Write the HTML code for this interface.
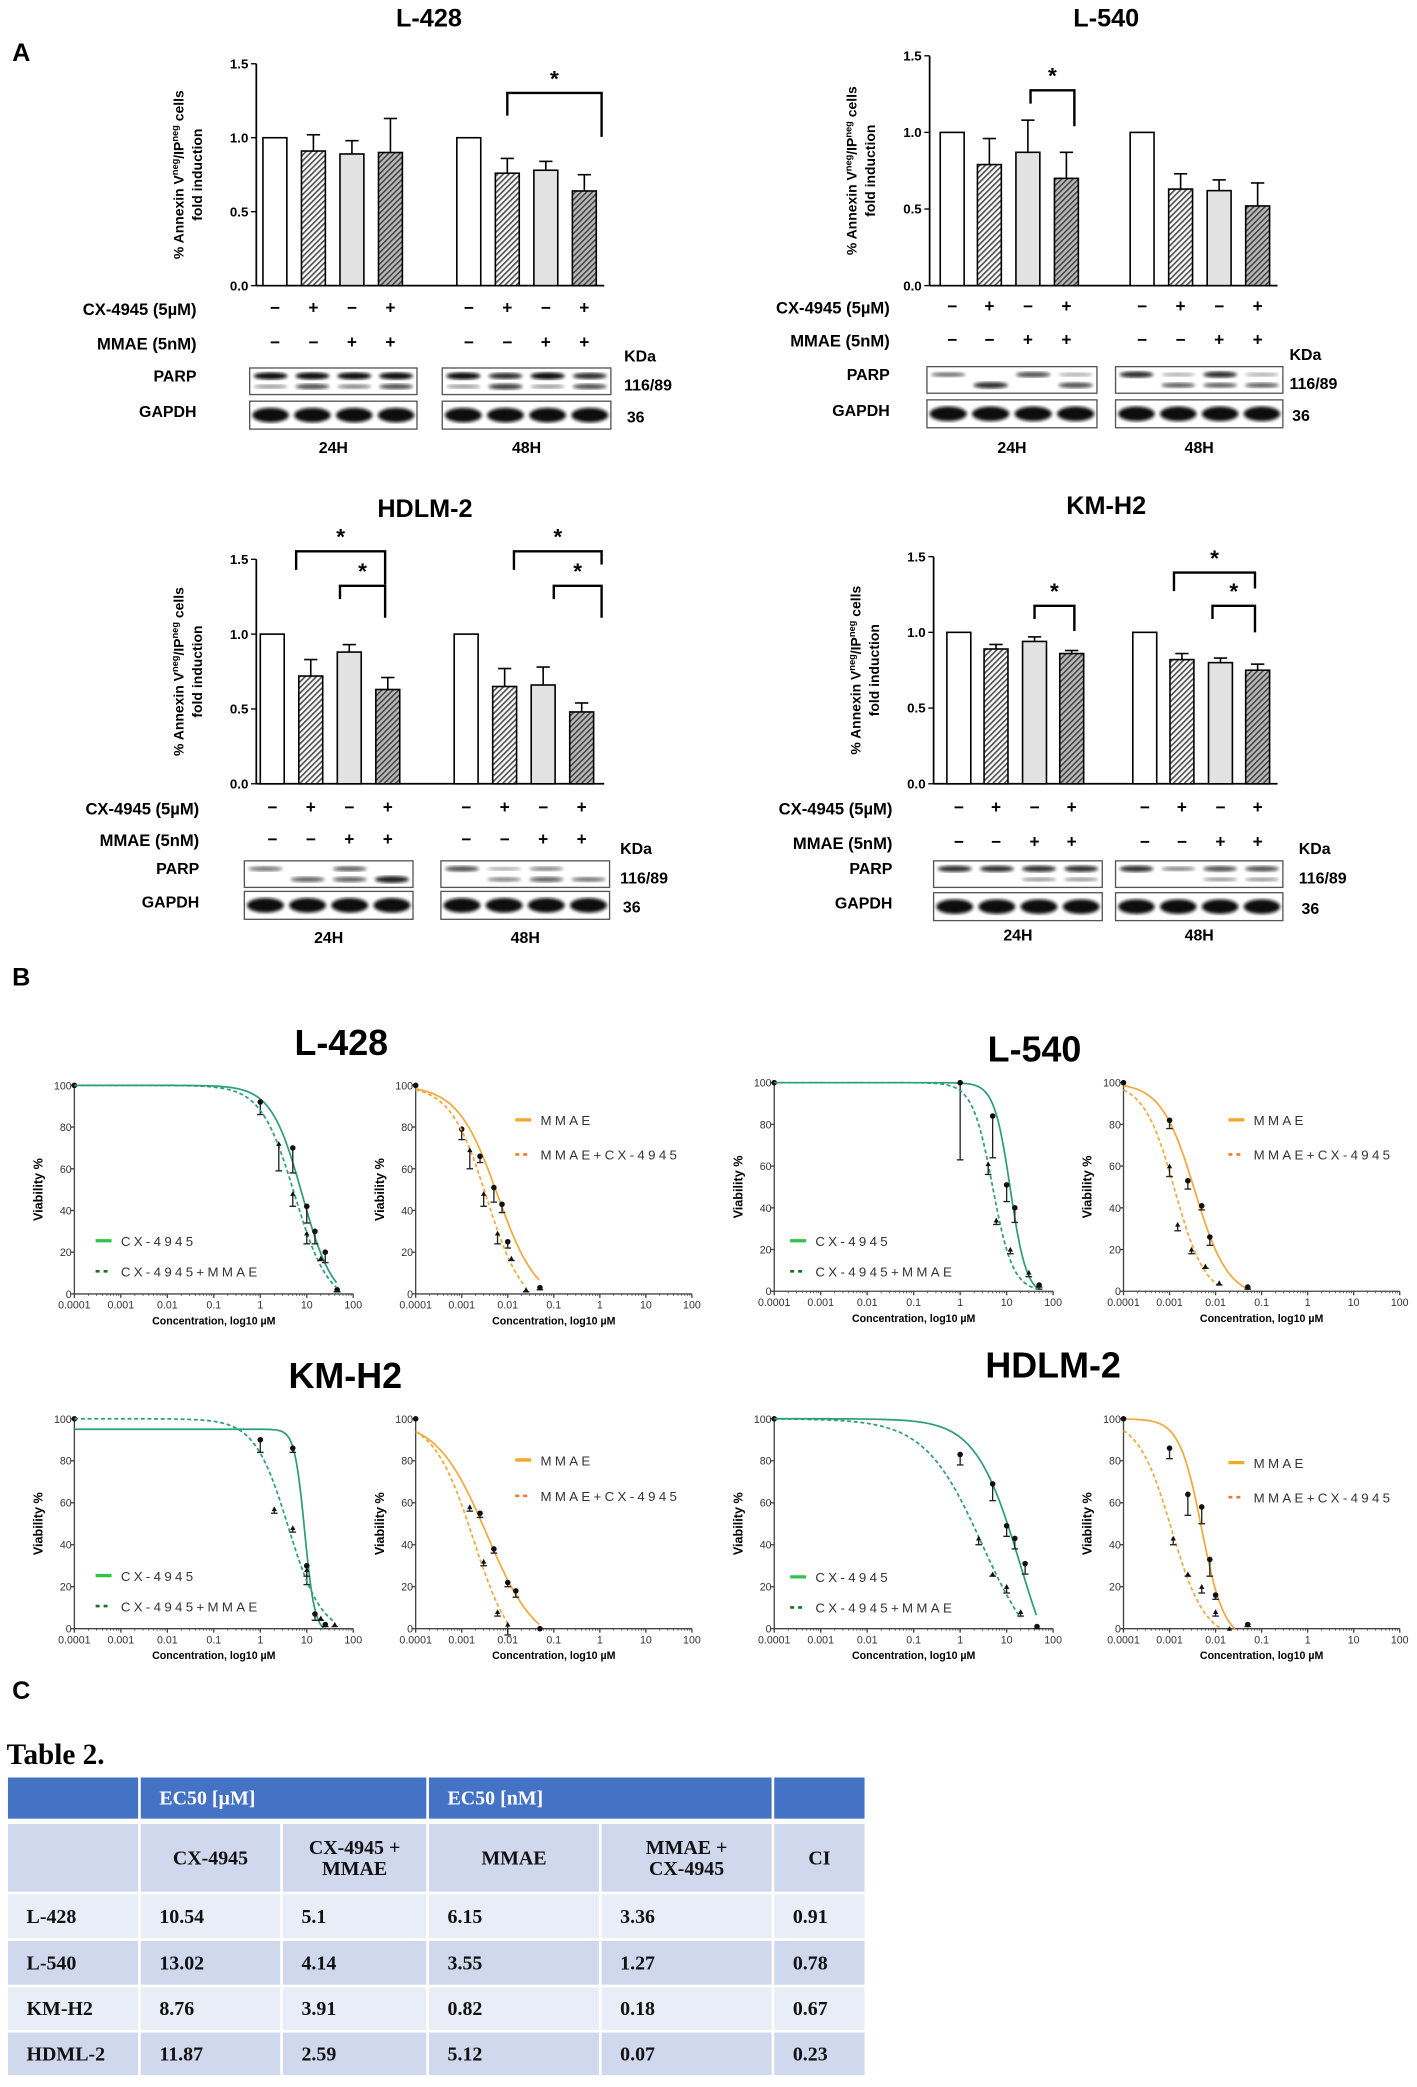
<!DOCTYPE html>
<html><head><meta charset="utf-8"><style>
html,body{margin:0;padding:0;background:#fff;width:1417px;height:2087px;overflow:hidden}
svg{display:block}
</style></head><body>
<svg id="fig" width="1417" height="2087" viewBox="0 0 1067 1571" preserveAspectRatio="none" xmlns="http://www.w3.org/2000/svg" font-family="Liberation Sans, sans-serif">
<defs>
<pattern id="hatch" width="3" height="3" patternUnits="userSpaceOnUse" patternTransform="rotate(45)"><rect width="3" height="3" fill="#fff"/><rect width="1.3" height="3" fill="#555"/></pattern>
<pattern id="hatchd" width="3" height="3" patternUnits="userSpaceOnUse" patternTransform="rotate(45)"><rect width="3" height="3" fill="#bbb"/><rect width="1.2" height="3" fill="#444"/></pattern>
<filter id="blur"><feGaussianBlur stdDeviation="1.2"/></filter>
</defs>
<g id="root"></g>
</svg>
<script>
// ---------- Panel A data ----------
var barGroups = ['24H','48H'];
var barTreatments = ['ctrl','cx','mmae','combo'];
var l428Vals = [1.0,0.91,0.89,0.90, 1.0,0.76,0.78,0.64];
var l428Errs = [0,0.11,0.09,0.23, 0,0.10,0.06,0.11];
var l540Vals = [1.0,0.79,0.87,0.70, 1.0,0.63,0.62,0.52];
var l540Errs = [0,0.17,0.21,0.17, 0,0.10,0.07,0.15];
var hdlmVals = [1.0,0.72,0.88,0.63, 1.0,0.65,0.66,0.48];
var hdlmErrs = [0,0.11,0.05,0.08, 0,0.12,0.12,0.06];
var kmh2Vals = [1.0,0.89,0.94,0.86, 1.0,0.82,0.80,0.75];
var kmh2Errs = [0,0.03,0.03,0.02, 0,0.04,0.03,0.04];
var barTicks = [0,0.5,1.0,1.5];
var cxSigns = ['−','+','−','+','−','+','−','+'];
var mmSigns = ['−','−','+','+','−','−','+','+'];
// ---------- Panel B data ----------
var doseTicks = [0.0001,0.001,0.01,0.1,1,10,100];
var vTicks = [0,20,40,60,80,100];
var l428CxX=[0.0001,1,5,10,15,25,45], l428CxY=[100,92,70,42,30,20,2], l428CxE=[0,6,12,8,6,5,1];
var l428CxmX=[2.5,5,10,20,45], l428CxmY=[72,48,29,17,2], l428CxmE=[13,6,5,1,1];
var l428MmX=[0.0001,0.001,0.0025,0.005,0.0075,0.01,0.05], l428MmY=[100,79,66,51,43,25,3], l428MmE=[0,5,3,7,4,3,1];
var l428MmcX=[0.0015,0.003,0.006,0.012,0.025], l428MmcY=[69,48,29,17,2], l428MmcE=[9,6,5,1,1];
var l540CxX=[0.0001,1,5,10,15,50], l540CxY=[100,100,84,51,40,3], l540CxE=[0,37,20,8,7,2];
var l540CxmX=[4,6,12,30,50], l540CxmY=[61,34,20,9,3], l540CxmE=[5,2,2,2,1];
var l540MmX=[0.0001,0.001,0.0025,0.005,0.0075,0.05], l540MmY=[100,82,53,41,26,2], l540MmE=[0,4,4,2,4,1];
var l540MmcX=[0.001,0.0015,0.003,0.006,0.012], l540MmcY=[60,32,20,12,4], l540MmcE=[5,3,2,1,1];
var kmCxX=[0.0001,1,5,10,15,25], kmCxY=[100,90,86,30,7,2], kmCxE=[0,6,2,9,3,1];
var kmCxmX=[2,5,10,20,40], kmCxmY=[57,48,28,5,2], kmCxmE=[2,2,3,1,1];
var kmMmX=[0.0001,0.0025,0.005,0.01,0.015,0.05], kmMmY=[100,55,38,22,18,0], kmMmE=[0,2,2,2,3,0];
var kmMmcX=[0.0015,0.003,0.006,0.01], kmMmcY=[58,32,8,2], kmMmcE=[2,2,2,5];
var hdCxX=[0.0001,1,5,10,15,25,45], hdCxY=[100,83,69,49,43,31,1], hdCxE=[0,5,8,5,5,5,1];
var hdCxmX=[2.5,5,10,20], hdCxmY=[43,26,20,8], hdCxmE=[3,1,3,2];
var hdMmX=[0.0001,0.001,0.0025,0.005,0.0075,0.01,0.05], hdMmY=[100,86,64,58,33,16,2], hdMmE=[0,5,10,8,8,2,1];
var hdMmcX=[0.0012,0.0025,0.005,0.01,0.02], hdMmcY=[43,26,20,8,0], hdMmcE=[3,1,3,2,0];
var fitL428 = [[100,-5,8,1.3],[100,-5,5.5,1.2],[100,-5,0.006,1.0],[100,-8,0.0035,1.1]];
var fitL540 = [[100,-2,12,2.5],[100,0,5,2.0],[100,-3,0.0035,1.2],[100,-3,0.0013,1.3]];
var fitKm   = [[95,-2,9,4],[100,-3,4,1.2],[100,-10,0.0035,0.8],[100,-15,0.0018,1.0]];
var fitHd   = [[100,-40,20,0.9],[100,-20,3,0.7],[100,-5,0.005,1.8],[100,-5,0.0011,1.2]];
// ---------- Table ----------
var tblRows = ['L-428','L-540','KM-H2','HDML-2'];
var tblCx   = ['10.54','13.02','8.76','11.87'];
var tblCxm  = ['5.1','4.14','3.91','2.59'];
var tblMm   = ['6.15','3.55','0.82','5.12'];
var tblMmc  = ['3.36','1.27','0.18','0.07'];
var tblCi   = ['0.91','0.78','0.67','0.23'];

var NS='http://www.w3.org/2000/svg', root=document.getElementById('root');
function el(tag,attrs,parent,txt){var e=document.createElementNS(NS,tag);for(var k in attrs)e.setAttribute(k,attrs[k]);if(txt!==undefined)e.textContent=txt;(parent||root).appendChild(e);return e;}
function T(x,y,s,size,opt,parent,name){opt=opt||{};var a={x:x,y:y,'font-size':size,'text-anchor':opt.anchor||'middle','font-weight':opt.weight||'bold',fill:opt.fill||'#000','font-family':opt.fam||'Liberation Sans, sans-serif'};if(opt.tr)a.transform=opt.tr;if(opt.ls)a['letter-spacing']=opt.ls;var t=el('text',a,parent,s);


return t;}
var SERIF='Liberation Serif, serif';

T(16,46,'A',19,{},null,'panel-a-label');
T(16,742,'B',19,{},null,'panel-b-label');
T(16,1279,'C',19,{},null,'panel-c-label');

function barPanel(o){
  var g=el('g',{});
  
  
  T(o.titleX,o.titleY,o.title,19,{},g,'panel-title');
  var yv=function(v){return o.y0-(o.y0-o.y15)*v/1.5;};
  el('line',{x1:o.ax,y1:o.y15,x2:o.ax,y2:o.y0,stroke:'#000','stroke-width':1.3},g);
  el('line',{x1:o.ax,y1:o.y0,x2:o.axEnd,y2:o.y0,stroke:'#000','stroke-width':1.3},g);
  barTicks.forEach(function(t){el('line',{x1:o.ax-4,y1:yv(t),x2:o.ax,y2:yv(t),stroke:'#000'},g);T(o.ax-6,yv(t)+3.5,t.toFixed(1),10,{anchor:'end'},g,'y-tick-label');});
  var yl=el('g',{transform:'translate('+(o.ax-55)+','+((o.y0+o.y15)/2)+') rotate(-90)'},g);
  
  
  var t1=el('text',{x:0,y:0,'font-size':10.5,'font-weight':'bold','text-anchor':'middle'},yl);
  t1.innerHTML='% Annexin V<tspan dy="-4" font-size="7">neg</tspan><tspan dy="4">/IP</tspan><tspan dy="-4" font-size="7">neg</tspan><tspan dy="4"> cells</tspan>';
  el('text',{x:0,y:14,'font-size':10.5,'font-weight':'bold','text-anchor':'middle'},yl,'fold induction');
  var fills=['#fff','url(#hatch)','#e2e2e2','url(#hatchd)'];
  o.vals.forEach(function(v,i){
    var cx=o.centers[i], w=18;
    var r=el('rect',{x:cx-w/2,y:yv(v),width:w,height:o.y0-yv(v),fill:fills[i%4],stroke:'#000','stroke-width':1.2},g);
    
    
    if(o.errs[i]>0){var ye=yv(v+o.errs[i]);el('line',{x1:cx,y1:yv(v),x2:cx,y2:ye,stroke:'#000','stroke-width':1.2},g);el('line',{x1:cx-5,y1:ye,x2:cx+5,y2:ye,stroke:'#000','stroke-width':1.2},g);}
    T(cx,o.rowY1+4,cxSigns[i],13,{},g,'cx-sign');
    T(cx,o.rowY2+4,mmSigns[i],13,{},g,'mmae-sign');
  });
  T(o.lblX,o.rowY1+5,'CX-4945 (5µM)',12.5,{anchor:'end'},g,'cx-row-label');
  T(o.lblX,o.rowY2+5,'MMAE (5nM)',12.5,{anchor:'end'},g,'mmae-row-label');
  o.brackets.forEach(function(b){
    var p=el('path',{d:'M'+b[0]+','+(b[2]+b[3])+' V'+b[2]+' H'+b[1]+' V'+(b[2]+b[4]),fill:'none',stroke:'#000','stroke-width':1.8},g);
    
    
    T((b[0]+b[1])/2,b[2]-5,'*',17,{},g,'significance-star');
  });
  T(o.lblX,o.parpY+10,'PARP',12,{anchor:'end'},g,'parp-label');
  T(o.lblX,o.gapY+12,'GAPDH',12,{anchor:'end'},g,'gapdh-label');
  o.blots.forEach(function(bx,k){
    var bw=bx[1]-bx[0];
    var b1=el('rect',{x:bx[0],y:o.parpY,width:bw,height:20,fill:'#fff',stroke:'#555','stroke-width':1},g);
    
    
    var b2=el('rect',{x:bx[0],y:o.gapY,width:bw,height:21,fill:'#fff',stroke:'#555','stroke-width':1},g);
    
    
    for(var l=0;l<4;l++){
      var lx=bx[0]+bw*(l+0.5)/4, lw=bw/4-6;
      var up=o.parpUp[k*4+l], lo=o.parpLo[k*4+l];
      if(up>0)el('ellipse',{cx:lx,cy:o.parpY+6,rx:lw/2,ry:1.2+up*1.5,fill:'#111',opacity:0.3+0.7*up,filter:'url(#blur)'},g);
      if(lo>0)el('ellipse',{cx:lx,cy:o.parpY+14,rx:lw/2,ry:1.2+lo*1.5,fill:'#111',opacity:0.3+0.7*lo,filter:'url(#blur)'},g);
      el('ellipse',{cx:lx,cy:o.gapY+10.5,rx:lw/2+1,ry:5.5,fill:'#111',filter:'url(#blur)'},g);
    }
    T((bx[0]+bx[1])/2,o.hY,barGroups[k],12,{},g,'timepoint-label');
  });
  T(o.kx,o.parpY-5,'KDa',12,{anchor:'start'},g,'kda-label');
  T(o.kx,o.parpY+17,'116/89',12,{anchor:'start'},g,'parp-kda');
  T(o.kx+2,o.gapY+16,'36',12,{anchor:'start'},g,'gapdh-kda');
}
barPanel({name:'l428',title:'L-428',titleX:323,titleY:20,ax:193,axEnd:455,y0:215,y15:48,centers:[207,236,265,294,353,382,411,440],vals:l428Vals,errs:l428Errs,
  rowY1:232,rowY2:258,lblX:148,brackets:[[382,453,70,17,33]],parpY:277,gapY:302,blots:[[188,314],[333,460]],
  parpUp:[1,1,1,1,1,.8,1,.8],parpLo:[.2,.6,.3,.6,.2,.7,.2,.6],kx:470,hY:341});
barPanel({name:'l540',title:'L-540',titleX:833,titleY:20,ax:700,axEnd:962,y0:215,y15:42,centers:[717,745,774,803,860,889,918,947],vals:l540Vals,errs:l540Errs,
  rowY1:231,rowY2:256,lblX:670,brackets:[[776,809,68,10,27]],parpY:276,gapY:301,blots:[[698,826],[840,966]],
  parpUp:[.4,0,.6,.1,.8,.1,.8,.1],parpLo:[0,.8,0,.6,0,.5,.5,.5],kx:971,hY:341});
barPanel({name:'hdlm2',title:'HDLM-2',titleX:320,titleY:389,ax:193,axEnd:455,y0:590,y15:421,centers:[205,234,263,292,351,380,409,438],vals:hdlmVals,errs:hdlmErrs,
  rowY1:608,rowY2:632,lblX:150,brackets:[[223,290,415,14,25],[256,290,441,10,24],[387,453,415,14,10],[417,453,441,10,24]],parpY:648,gapY:671,blots:[[184,311],[332,459]],
  parpUp:[.4,0,.5,0,.6,.1,.3,0],parpLo:[0,.5,.5,.9,0,.3,.5,.4],kx:467,hY:710});
barPanel({name:'kmh2',title:'KM-H2',titleX:833,titleY:387,ax:703,axEnd:962,y0:590,y15:419,centers:[722,750,779,807,862,890,919,947],vals:kmh2Vals,errs:kmh2Errs,
  rowY1:608,rowY2:634,lblX:672,brackets:[[779,809,456,10,19],[884,945,431,14,12],[913,945,456,10,20]],parpY:648,gapY:672,blots:[[703,830],[840,966]],
  parpUp:[.8,.8,.8,.8,.8,.3,.6,.6],parpLo:[0,0,.2,.2,0,0,.2,.2],kx:978,hY:708});

function dose(o){
  var g=el('g',{});
  
  
  var xs=function(c){return o.x0+(Math.log10(c)+4)*(o.x1-o.x0)/6;};
  var ys=function(v){return o.y0-(o.y0-o.y100)*v/100;};
  el('line',{x1:o.x0,y1:o.y100,x2:o.x0,y2:o.y0,stroke:'#444','stroke-width':1},g);
  el('line',{x1:o.x0,y1:o.y0,x2:o.x1,y2:o.y0,stroke:'#444','stroke-width':1},g);
  vTicks.forEach(function(t){el('line',{x1:o.x0-3,y1:ys(t),x2:o.x0,y2:ys(t),stroke:'#444'},g);T(o.x0-2,ys(t)+3,String(t),8,{anchor:'end',weight:'normal',fill:'#333'},g,'y-tick-label');});
  doseTicks.forEach(function(t,i){var x=xs(t);el('line',{x1:x,y1:o.y0,x2:x,y2:o.y0+3,stroke:'#444'},g);
    if(i<6)for(var m=2;m<10;m++){var xm=xs(t*m);el('line',{x1:xm,y1:o.y0,x2:xm,y2:o.y0+1.5,stroke:'#444','stroke-width':.6},g);}
    T(x,o.y0+11,String(t),8,{weight:'normal',fill:'#333'},g,'x-tick-label');});
  T((o.x0+o.x1)/2,o.y0+23,'Concentration, log10 µM',8,{},g,'x-axis-title');
  T(o.x0-24,(o.y0+o.y100)/2,'Viability %',9.5,{tr:'rotate(-90 '+(o.x0-24)+' '+((o.y0+o.y100)/2)+')'},g,'y-axis-title');
  o.series.forEach(function(s){
    var f=s.fit, d='', started=false;
    for(var lc=-4;lc<=Math.log10(s.xmax)+1e-9;lc+=0.02){
      var c=Math.pow(10,lc), v=f[1]+(f[0]-f[1])/(1+Math.pow(c/f[2],f[3]));
      if(v<0)break;
      d+=(started?'L':'M')+xs(c).toFixed(1)+','+ys(v).toFixed(1);started=true;
    }
    var p=el('path',{d:d,fill:'none',stroke:o.color,'stroke-width':1.3,'stroke-dasharray':s.dash?'3,2':'none'},g);
    
    
    s.x.forEach(function(c,i){
      var px=xs(c), py=ys(s.y[i]), e=s.e[i];
      if(e>0){el('line',{x1:px,y1:py,x2:px,y2:ys(s.y[i]-e),stroke:'#222','stroke-width':1},g);el('line',{x1:px-2.5,y1:ys(s.y[i]-e),x2:px+2.5,y2:ys(s.y[i]-e),stroke:'#222'},g);}
      var pt=s.dash?el('path',{d:'M'+(px-2)+','+(py+1.6)+'L'+px+','+(py-2)+'L'+(px+2)+','+(py+1.6)+'Z',fill:'#111'},g):el('circle',{cx:px,cy:py,r:2.1,fill:'#111'},g);
      
      
    });
  });
  var lg=el('g',{},g);
  
  
  el('line',{x1:o.lx,y1:o.ly1,x2:o.lx+12,y2:o.ly1,stroke:o.legColor,'stroke-width':2.5},lg);
  T(o.lx+19,o.ly1+4,o.l1,10,{anchor:'start',weight:'normal',fill:'#333',ls:'2.5'},lg,'legend-entry');
  el('line',{x1:o.lx,y1:o.ly2,x2:o.lx+12,y2:o.ly2,stroke:o.legColor2,'stroke-width':2,'stroke-dasharray':'3,3'},lg);
  T(o.lx+19,o.ly2+4,o.l2,10,{anchor:'start',weight:'normal',fill:'#333',ls:'2.5'},lg,'legend-entry');
}
var G='#2e9e78',O='#f2a93b';
function cxPair(x0,y100,y0,fit,a,b,name,lx,ly){
  dose({name:name+'-cx4945-chart',x0:x0,x1:x0+210,y100:y100,y0:y0,color:G,legColor:'#2ec44a',legColor2:'#1a6e2a',lx:lx,ly1:ly,ly2:ly+23,l1:'CX-4945',l2:'CX-4945+MMAE',
    series:[{x:a[0],y:a[1],e:a[2],fit:fit[0],xmax:a[0][a[0].length-1]},{x:b[0],y:b[1],e:b[2],fit:fit[1],dash:1,xmax:b[0][b[0].length-1]}]});
}
function mmPair(x0,y100,y0,fit,a,b,name,lx,ly1,ly2){
  dose({name:name+'-mmae-chart',x0:x0,x1:x0+208,y100:y100,y0:y0,color:O,legColor:'#f5a623',legColor2:'#ee7a2a',lx:lx,ly1:ly1,ly2:ly2,l1:'MMAE',l2:'MMAE+CX-4945',
    series:[{x:a[0],y:a[1],e:a[2],fit:fit[2],xmax:a[0][a[0].length-1]},{x:b[0],y:b[1],e:b[2],fit:fit[3],dash:1,xmax:b[0][b[0].length-1]}]});
}
function title(x,y,s){T(x,y,s,27,{},null,'cell-line-title');}
title(257,794,'L-428');title(779,799,'L-540');title(260,1045,'KM-H2');title(793,1037,'HDLM-2');
cxPair(56,817,974,fitL428,[l428CxX,l428CxY,l428CxE],[l428CxmX,l428CxmY,l428CxmE],'l428',72,934);
mmPair(313,817,974,fitL428,[l428MmX,l428MmY,l428MmE],[l428MmcX,l428MmcY,l428MmcE],'l428',388,843,869);
cxPair(583,815,972,fitL540,[l540CxX,l540CxY,l540CxE],[l540CxmX,l540CxmY,l540CxmE],'l540',595,934);
mmPair(846,815,972,fitL540,[l540MmX,l540MmY,l540MmE],[l540MmcX,l540MmcY,l540MmcE],'l540',925,843,869);
cxPair(56,1068,1226,fitKm,[kmCxX,kmCxY,kmCxE],[kmCxmX,kmCxmY,kmCxmE],'kmh2',72,1186);
mmPair(313,1068,1226,fitKm,[kmMmX,kmMmY,kmMmE],[kmMmcX,kmMmcY,kmMmcE],'kmh2',388,1099,1126);
cxPair(583,1068,1226,fitHd,[hdCxX,hdCxY,hdCxE],[hdCxmX,hdCxmY,hdCxmE],'hdlm2',595,1187);
mmPair(846,1068,1226,fitHd,[hdMmX,hdMmY,hdMmE],[hdMmcX,hdMmcY,hdMmcE],'hdlm2',925,1101,1127);

var tg=el('g',{});


T(5,1328,'Table 2.',22,{anchor:'start',fam:SERIF},tg,'table-title');
function cell(x1,x2,y1,y2,fill,txt,col,anchor,name){
  var r=el('rect',{x:x1+1,y:y1,width:x2-x1-2,height:y2-y1,fill:fill},tg);
  
  
  if(txt){var lines=txt.split('\n');lines.forEach(function(l,i){
    var yy=(y1+y2)/2+5+(i-(lines.length-1)/2)*16;
    T(anchor==='start'?x1+15:(x1+x2)/2,yy,l,15,{anchor:anchor||'middle',fill:col||'#111',fam:SERIF},tg,'table-cell-text');});}
}
var B='#4472c4',D='#d0d8ee',L='#e9edf7';
cell(5,105,1338,1369,B,'','','','header-cell');
cell(105,322,1338,1369,B,'EC50 [µM]','#fff','start','header-cell');
cell(322,582,1338,1369,B,'EC50 [nM]','#fff','start','header-cell');
cell(582,652,1338,1369,B,'','','','header-cell');
var cols=[5,105,212,322,452,582,652];
var hdr=['','CX-4945','CX-4945 +\nMMAE','MMAE','MMAE +\nCX-4945','CI'];
hdr.forEach(function(h,i){cell(cols[i],cols[i+1],1373,1424,D,h,'#111','middle','column-header');});
var rowY=[[1426,1459],[1461,1494],[1496,1528],[1530,1562]];
tblRows.forEach(function(r,k){
  var f=k%2?D:L, vals=[r,tblCx[k],tblCxm[k],tblMm[k],tblMmc[k],tblCi[k]];
  vals.forEach(function(v,i){cell(cols[i],cols[i+1],rowY[k][0],rowY[k][1],f,v,'#111','start','table-cell');});
});
</script>
</body></html>
